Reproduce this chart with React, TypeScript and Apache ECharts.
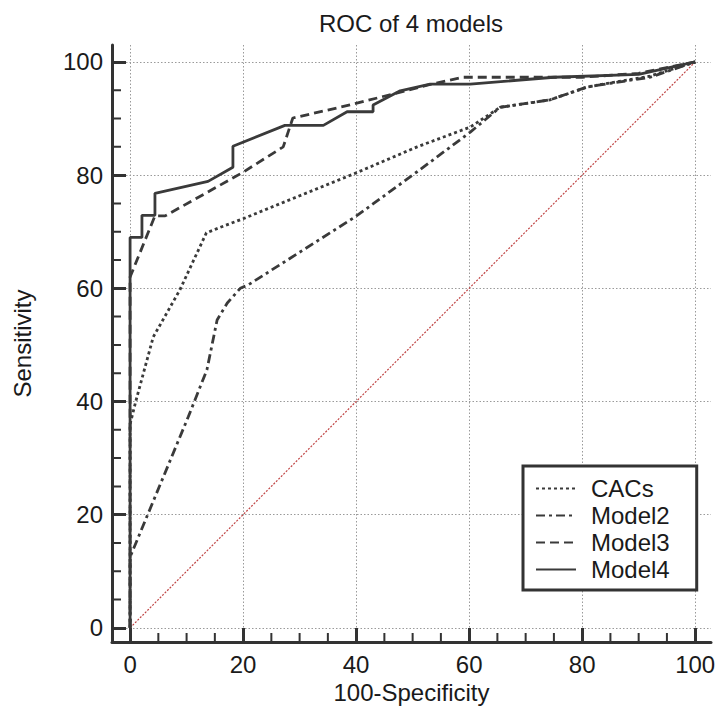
import React, { useEffect, useRef } from 'react';
import * as echarts from 'echarts';

const seriesNames = ['CACs', 'Model2', 'Model3', 'Model4'];

const cacsX = [0, 0, 1, 4.1, 8.8, 13.5, 16, 20, 40, 50.8, 60.2, 65.5, 74.3, 81, 92, 100];
const cacsY = [0, 36, 40, 51.4, 59.7, 69.8, 70.8, 72.3, 80.4, 85, 88.5, 92, 93.3, 95.6, 97.5, 100];

const model2X = [0, 0, 10.3, 13.6, 15.4, 17.2, 19.5, 20.9, 39.8, 50.8, 60.2, 65.5, 74.3, 80.9, 92, 100];
const model2Y = [0, 12.5, 37.3, 45.6, 54.4, 57.4, 60, 60.6, 72.6, 80.6, 87.6, 92, 93.3, 95.6, 97.3, 100];

const model3X = [0, 0, 4.4, 6.2, 19.8, 27.1, 28.8, 38.9, 52.6, 58.9, 80, 90, 100];
const model3Y = [0, 62, 72.8, 72.8, 80.4, 85, 90.1, 92.4, 95.9, 97.3, 97.3, 98, 100];

const model4X = [0, 0, 2.1, 2.1, 4.4, 4.4, 13.8, 18.2, 18.2, 27.4, 34.2, 38.4, 43, 43, 47.8, 53.1, 60.2, 75, 90, 100];
const model4Y = [0, 69, 69, 72.9, 72.9, 76.8, 78.9, 81.4, 85.1, 88.8, 88.8, 91.2, 91.2, 92.4, 94.9, 96.1, 96.1, 97.3, 97.8, 100];

const refX = [0, 100];
const refY = [0, 100];

const majorTicks = [0, 20, 40, 60, 80, 100];
const minorTicks = [5, 10, 15, 25, 30, 35, 45, 50, 55, 65, 70, 75, 85, 90, 95];

const FONT = "'Liberation Sans', Arial, sans-serif";
const AXIS_COLOR = '#333333';
const TEXT_COLOR = '#1a1a1a';
const FS = 24;

const zip = (xs: number[], ys: number[]) => xs.map((x, i) => [x, ys[i]]);

const dashTypes: any[] = [[3, 3], [9, 4, 3, 4], [9, 5], 'solid'];
const seriesData = [zip(cacsX, cacsY), zip(model2X, model2Y), zip(model3X, model3Y), zip(model4X, model4Y)];

const X_MIN = -3.2, X_MAX = 102.8, Y_MIN = -2.5, Y_MAX = 103;
const GRID = { left: 112, right: 6, top: 45, bottom: 71 };
const GRID_W = 717 - GRID.left - GRID.right;
const GRID_H = 713 - GRID.top - GRID.bottom;
const MINOR_TICK_PX = 9;
const tickLenX = (MINOR_TICK_PX * (X_MAX - X_MIN)) / GRID_W;
const tickLenY = (MINOR_TICK_PX * (Y_MAX - Y_MIN)) / GRID_H;

// minor tick segments along both axis lines, separated by empty points
const minorTickSegments: any[] = [];
minorTicks.forEach((v) => {
  minorTickSegments.push([v, Y_MIN], [v, Y_MIN + tickLenY], ['-', '-']);
});
minorTicks.forEach((v) => {
  minorTickSegments.push([X_MIN, v], [X_MIN + tickLenX, v], ['-', '-']);
});

function mainAxis(dim: 'x' | 'y') {
  const isX = dim === 'x';
  return {
    type: 'value',
    min: isX ? X_MIN : Y_MIN,
    max: isX ? X_MAX : Y_MAX,
    position: isX ? 'bottom' : 'left',
    name: isX ? '100-Specificity' : 'Sensitivity',
    nameLocation: 'middle',
    nameGap: isX ? 37 : 78,
    nameTextStyle: { fontSize: FS, color: TEXT_COLOR, fontFamily: FONT },
    axisLine: { show: true, onZero: false, lineStyle: { color: AXIS_COLOR, width: 3 } },
    axisTick: { show: true, inside: true, length: 14, customValues: majorTicks, lineStyle: { color: AXIS_COLOR, width: 3 } },
    axisLabel: { show: true, customValues: majorTicks, fontSize: FS, color: TEXT_COLOR, fontFamily: FONT, margin: isX ? 10 : 9 },
    splitLine: { show: true, lineStyle: { type: [1.5, 2], color: '#9a9a9a', width: 1 } },
  };
}

export default function App() {
  const ref = useRef<HTMLDivElement>(null);
  useEffect(() => {
    const chart = echarts.init(ref.current!, null, { renderer: 'svg' });
    const option: any = {
      animation: false,
      backgroundColor: '#ffffff',
      textStyle: { fontFamily: FONT },
      title: {
        text: 'ROC of 4 models',
        left: 411,
        top: 11,
        padding: 0,
        textAlign: 'center',
        textStyle: { fontSize: FS, fontWeight: 'normal', color: TEXT_COLOR, fontFamily: FONT },
      },
      grid: { ...GRID, containLabel: false, outerBoundsMode: 'none' },
      xAxis: mainAxis('x'),
      yAxis: mainAxis('y'),
      legend: {
        data: seriesNames,
        orient: 'vertical',
        left: 523,
        top: 466,
        padding: [9, 27, 7, 12],
        itemWidth: 40,
        itemHeight: 14,
        itemGap: 0,
        backgroundColor: '#ffffff',
        borderColor: AXIS_COLOR,
        borderWidth: 3,
        borderRadius: 0,
        itemStyle: { opacity: 0 },
        textStyle: { fontSize: FS, lineHeight: 27, color: TEXT_COLOR, fontFamily: FONT, padding: [0, 0, 0, 10] },
        z: 10,
      },
      series: [
        {
          name: 'minorTicks',
          type: 'line',
          data: minorTickSegments,
          symbol: 'none',
          silent: true,
          clip: false,
          connectNulls: false,
          lineStyle: { color: AXIS_COLOR, width: 2 },
          z: 5,
        },
        {
          name: 'reference',
          type: 'line',
          data: zip(refX, refY),
          symbol: 'none',
          silent: true,
          lineStyle: { color: '#c04545', width: 1.2, type: [2, 1.5] },
          z: 1,
        },
        ...seriesNames.map((name, i) => ({
          name,
          type: 'line',
          data: seriesData[i],
          symbol: 'none',
          color: '#3a3a3a',
          lineStyle: { color: '#3a3a3a', width: 2.8, type: dashTypes[i] },
          z: 2 + i,
        })),
      ],
    };
    chart.setOption(option);
    return () => chart.dispose();
  }, []);
  return <div ref={ref} style={{ position: 'fixed', left: 0, top: 0, width: 717, height: 713 }} />;
}
